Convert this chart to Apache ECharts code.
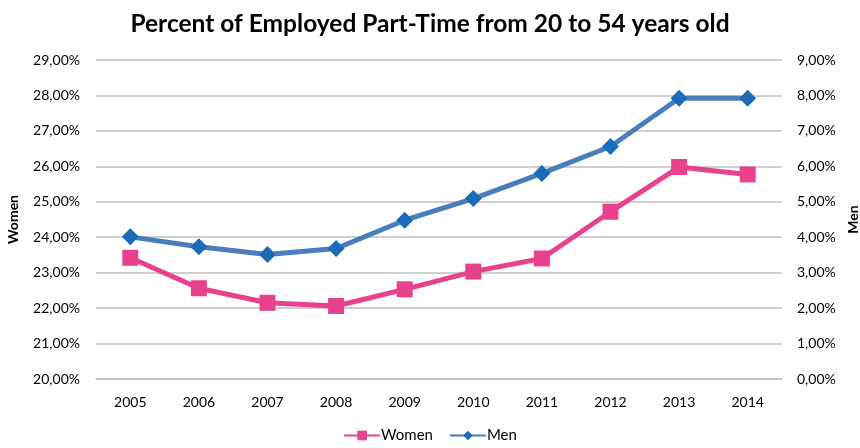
<!DOCTYPE html>
<html>
<head>
<meta charset="utf-8">
<script src="https://cdn.jsdelivr.net/npm/echarts@6/dist/echarts.min.js"></script>
<style>html,body{margin:0;padding:0;background:#fff}#c{width:860px;height:448px}</style>
</head>
<body>
<div id="c"></div>
<script>
const years = ['2005','2006','2007','2008','2009','2010','2011','2012','2013','2014'];
const women = [23.42, 22.56, 22.15, 22.06, 22.53, 23.03, 23.40, 24.72, 25.98, 25.77];
const men = [4.01, 3.73, 3.51, 3.68, 4.48, 5.09, 5.80, 6.56, 7.92, 7.92];
const titleText = 'Percent of Employed Part-Time from 20 to 54 years old';

const FONT = 'Lato, "Open Sans", sans-serif';
const pink = '#E8418E';
const blueLine = '#4A7EBB';
const blueMark = '#1B6CB8';
const fmt = v => v.toFixed(2).replace('.', ',') + '%';

const chart = echarts.init(document.getElementById('c'), null, {renderer: 'canvas'});
chart.setOption({
  animation: false,
  backgroundColor: '#fff',
  textStyle: {fontFamily: FONT},
  title: {
    text: titleText, left: 'center', top: 7,
    textStyle: {fontFamily: FONT, fontSize: 24.5, fontWeight: 'bold', color: '#000'}
  },
  legend: {
    bottom: 0, left: 'center', itemWidth: 36, itemHeight: 12, itemGap: 16,
    textStyle: {fontFamily: FONT, fontSize: 15, color: '#000', padding: [0, 0, 0, -4]},
    data: ['Women', 'Men']
  },
  grid: {left: 96, right: 78, top: 60, bottom: 69, containLabel: false, outerBoundsMode: 'none'},
  xAxis: {
    type: 'category', data: years, boundaryGap: true,
    axisLine: {show: true, lineStyle: {color: '#BFBFBF', width: 1.5}},
    axisTick: {show: false},
    axisLabel: {fontFamily: FONT, fontSize: 14, color: '#000', margin: 16}
  },
  yAxis: [
    {
      type: 'value', min: 20, max: 29, interval: 1, position: 'left',
      name: 'Women', nameLocation: 'middle', nameRotate: 90, nameGap: 76,
      nameTextStyle: {fontFamily: FONT, fontSize: 14, fontWeight: 'bold', color: '#000'},
      axisLine: {show: false}, axisTick: {show: false},
      axisLabel: {fontFamily: FONT, fontSize: 14, color: '#000', margin: 16, formatter: fmt},
      splitLine: {lineStyle: {color: '#BFBFBF', width: 1.5}}
    },
    {
      type: 'value', min: 0, max: 9, interval: 1, position: 'right',
      name: 'Men', nameLocation: 'middle', nameRotate: 90, nameGap: 62,
      nameTextStyle: {fontFamily: FONT, fontSize: 14, fontWeight: 'bold', color: '#000'},
      axisLine: {show: false}, axisTick: {show: false},
      axisLabel: {fontFamily: FONT, fontSize: 14, color: '#000', margin: 15, formatter: fmt},
      splitLine: {show: false}
    }
  ],
  series: [
    {
      name: 'Women', type: 'line', yAxisIndex: 0, data: women,
      symbol: 'rect', symbolSize: 16,
      lineStyle: {color: pink, width: 5},
      itemStyle: {color: pink},
      z: 2
    },
    {
      name: 'Men', type: 'line', yAxisIndex: 1, data: men,
      symbol: 'diamond', symbolSize: 17,
      lineStyle: {color: blueLine, width: 5},
      itemStyle: {color: blueMark},
      z: 3
    }
  ]
});
</script>
</body>
</html>
